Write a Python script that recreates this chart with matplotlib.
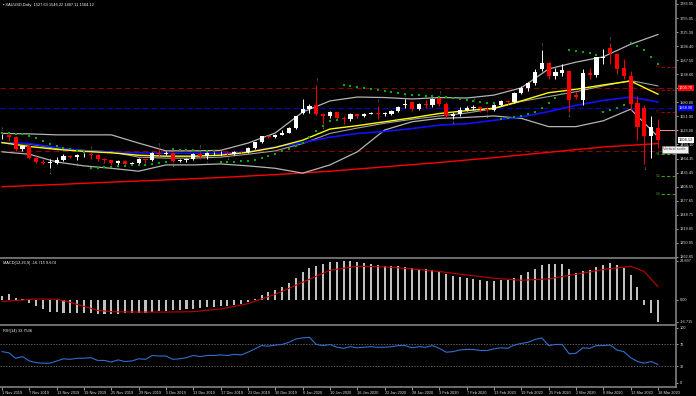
"""XAUUSD daily chart, MT4 style: candles + MAs/Bollinger/SAR, MACD and RSI panes."""

import matplotlib.pyplot as plt
import numpy as np
from matplotlib.transforms import blended_transform_factory

plt.rcParams["font.family"] = ["Liberation Sans", "DejaVu Sans"]

TITLE = "\u25aa XAUUSD,Daily  1527.63 1546.22 1487.11 1504.12"
MACD_TITLE = "MACD(12,26,9) -16.715 9.674"
RSI_TITLE = "RSI(14) 33.7536"

# --- daily candles, 1 Nov 2019 .. 18 Mar 2020 (97 bars) ---
opens = [1513, 1514, 1510, 1484, 1492, 1467, 1459, 1456, 1456, 1463,
         1471, 1468, 1472, 1474, 1472, 1464, 1462, 1455, 1461, 1454,
         1455, 1464, 1462, 1477, 1475, 1476, 1460, 1462, 1465, 1475,
         1471, 1476, 1476, 1477, 1475, 1479, 1478, 1487, 1499, 1511,
         1510, 1514, 1518, 1528, 1560, 1567, 1575, 1557, 1553, 1561,
         1549, 1546, 1556, 1552, 1557, 1560, 1558, 1558, 1563, 1576,
         1582, 1568, 1577, 1575, 1591, 1577, 1553, 1556, 1566, 1570,
         1572, 1567, 1566, 1575, 1584, 1581, 1601, 1611, 1620, 1650,
         1662, 1636, 1642, 1646, 1596, 1585, 1642, 1638, 1673, 1693,
         1681, 1652, 1635, 1580, 1569, 1512, 1527.63]
highs = [1516, 1515, 1511, 1494, 1494, 1470, 1465, 1464, 1468, 1474,
         1473, 1475, 1476, 1478, 1474, 1466, 1463, 1462, 1462, 1458,
         1466, 1465, 1479, 1484, 1481, 1479, 1465, 1466, 1477, 1479,
         1479, 1479, 1480, 1479, 1481, 1481, 1488, 1500, 1512, 1514,
         1516, 1524, 1530, 1553, 1588, 1577, 1617, 1560, 1563, 1564,
         1552, 1559, 1558, 1560, 1562, 1574, 1561, 1566, 1574, 1588,
         1584, 1580, 1585, 1590, 1592, 1581, 1562, 1571, 1574, 1576,
         1574, 1572, 1578, 1586, 1586, 1603, 1614, 1623, 1649, 1690,
         1665, 1651, 1660, 1648, 1602, 1650, 1652, 1675, 1692, 1703,
         1683, 1670, 1645, 1594, 1575, 1553, 1546.22]
lows = [1505, 1502, 1480, 1480, 1465, 1456, 1453, 1445, 1453, 1460,
        1466, 1462, 1468, 1465, 1461, 1456, 1452, 1452, 1452, 1452,
        1454, 1456, 1460, 1470, 1472, 1459, 1458, 1459, 1462, 1465,
        1464, 1473, 1473, 1473, 1473, 1476, 1476, 1485, 1498, 1507,
        1508, 1513, 1517, 1526, 1558, 1560, 1555, 1537, 1549, 1545,
        1536, 1543, 1548, 1550, 1556, 1547, 1553, 1554, 1561, 1569,
        1564, 1565, 1570, 1572, 1573, 1548, 1547, 1553, 1563, 1566,
        1562, 1561, 1563, 1573, 1578, 1579, 1598, 1604, 1617, 1645,
        1630, 1630, 1636, 1562, 1588, 1576, 1630, 1634, 1661, 1660,
        1640, 1630, 1566, 1504, 1453, 1466, 1487.11]
closes = [1514, 1510, 1484, 1492, 1467, 1459, 1456, 1456, 1463, 1471,
          1468, 1472, 1472, 1472, 1464, 1462, 1455, 1461, 1454, 1455,
          1464, 1462, 1477, 1475, 1476, 1460, 1462, 1465, 1475, 1471,
          1476, 1476, 1477, 1475, 1479, 1478, 1487, 1499, 1511, 1510,
          1514, 1518, 1528, 1552, 1568, 1574, 1557, 1553, 1561, 1549,
          1546, 1556, 1552, 1557, 1560, 1558, 1558, 1563, 1572, 1577,
          1568, 1577, 1575, 1588, 1577, 1553, 1556, 1566, 1570, 1571,
          1568, 1566, 1575, 1584, 1581, 1601, 1611, 1620, 1643, 1662,
          1635, 1643, 1647, 1585, 1593, 1642, 1638, 1674, 1675, 1683,
          1650, 1635, 1578, 1530, 1512, 1530, 1504.12]

sar = [1518, 1517, 1516, 1515, 1512, 1508, 1502, 1496, 1491, 1487,
       1484, 1481, 1479, 1445, 1446, 1447, 1448, 1449, 1450, 1451,
       1452, 1452.5, 1453, 1455, 1457.5, 1484, 1483.5, 1483, 1482, 1481.5,
       1481, 1480.5, 1458, 1458.5, 1459, 1460, 1461, 1463, 1466, 1470,
       1475, 1480, 1485, 1491, 1498, 1510, 1522, 1533, 1543, 1544.5,
       1617, 1615, 1613, 1611, 1609, 1607, 1605, 1603, 1601, 1599,
       1597, 1596, 1595, 1594, 1593, 1592, 1590, 1588, 1586, 1584,
       1582, 1580, 1579, 1547, 1548.5, 1550, 1553, 1557, 1562, 1569,
       1580, 1590, 1598, 1690, 1688, 1685, 1682, 1679, 1562, 1565,
       1570, 1575, 1703, 1698, 1690, 1675, 1660]

frac_up = [0, 13, 23, 29, 46, 55, 59, 64, 69, 79, 89]
frac_dn = [7, 11, 17, 25, 30, 33, 47, 66, 71, 83, 94]

# indicator lines, read every 4 bars
line_bars = [0, 4, 8, 12, 16, 20, 24, 28, 32, 36, 40, 44, 48,
             52, 56, 60, 64, 68, 72, 76, 80, 84, 88, 92, 96]
bb_upper = [1517, 1516, 1514, 1514, 1514, 1497, 1481, 1481, 1482, 1497, 1518, 1561, 1584,
            1592, 1591, 1588, 1591, 1590, 1596, 1611, 1650, 1664, 1675, 1701, 1721]
bb_mid = [1498, 1495, 1486, 1482, 1479, 1468, 1466, 1466, 1468, 1474, 1481, 1496, 1517,
          1528, 1538, 1546, 1553, 1559, 1568, 1583, 1593, 1603, 1615, 1626, 1615]
bb_lower = [1479, 1474, 1458, 1450, 1445, 1439, 1452, 1452, 1454, 1450, 1445, 1435, 1452,
            1479, 1524, 1541, 1548, 1550, 1553, 1548, 1531, 1531, 1543, 1567, 1510]
ma_yellow = [1498, 1490, 1484, 1480, 1477, 1472, 1470, 1470, 1472, 1478, 1488, 1503, 1526,
             1533, 1541, 1549, 1558, 1564, 1569, 1584, 1601, 1608, 1617, 1625, 1598]
ma_blue = [1498, 1496, 1488, 1481, 1478, 1477, 1476, 1476, 1476, 1479, 1489, 1498, 1509,
           1517, 1521, 1527, 1534, 1537, 1544, 1551, 1562, 1575, 1585, 1592, 1582]
red_bars = [0, 8, 16, 24, 32, 40, 48, 56, 64, 72, 80, 88, 96]
ma_red = [1407, 1411.5, 1416.5, 1421, 1426, 1432, 1439, 1448, 1457, 1467, 1478, 1489, 1496]

# horizontal levels
level_red = [1609.70, 1480.7]
level_blue = 1568.90
pivot_names = ["R3", "R2", "R1", "S1", "S2", "S3"]
pivot_prices = [1654.6, 1606.5, 1561.1, 1474.5, 1429.1, 1392.0]

price_ticks = [1783.95, 1755.05, 1725.30, 1696.40, 1667.50, 1638.60, 1609.70, 1580.80,
               1551.90, 1523.00, 1494.10, 1464.35, 1435.45, 1406.55, 1377.65, 1348.75,
               1319.85, 1290.95, 1262.05]

# MACD main (histogram) and signal
macd_hist = [3, 4, 1.5, 0.5, -2.5, -5, -7, -9, -9.5, -9.8,
             -10, -10.2, -10.3, -10.3, -10.4, -10.4, -10.5, -10.4, -10.3, -10.2,
             -10.1, -9.8, -9.2, -8.7, -8.2, -8, -7.6, -7.2, -6.7, -6.3,
             -5.8, -5.4, -4.9, -4.5, -3.8, -3.2, -1.8, 0.5, 3.5, 5.5,
             7.5, 9.8, 12.5, 16.5, 20.5, 24, 25.5, 26.5, 27.8, 28.2,
             28.897, 28.6, 28, 27.4, 26.8, 26.2, 25.5, 25, 24.8, 24.5,
             23.6, 23.2, 22.6, 22.4, 21.4, 19.2, 17.6, 16.8, 16.2, 15.6,
             14.9, 14.2, 14.1, 14.6, 14.8, 16.3, 18.2, 20.3, 23.2, 26.2,
             26.5, 26.8, 26.9, 22.6, 20.1, 21.7, 22.3, 24.6, 26, 27.3,
             26.1, 24, 18.6, 9.8, -4, -10, -16.715]
sig_bars = [0, 3, 5, 8, 10, 12, 14, 16, 20, 24, 28, 32, 36, 40, 44, 48,
            52, 56, 60, 64, 68, 72, 76, 80, 84, 88, 92, 94, 96]
macd_signal = [-1.3, -0.3, 0.5, 0.3, -2, -5, -8, -9, -9.3, -9.3, -9, -7, -3, 4, 13, 22,
               25, 24.5, 23, 21, 18.5, 16, 14.5, 15.5, 19, 22.5, 25, 21, 9.674]

rsi = [57, 55, 45, 48, 40, 37, 36, 36, 40, 44,
       43, 45, 45, 46, 41, 41, 38, 42, 39, 40,
       44, 43, 50, 49, 49, 43, 44, 46, 50, 48,
       50, 50, 51, 50, 52, 51, 56, 62, 68, 67,
       69, 70, 74, 80, 82, 83, 70, 68, 70, 65,
       63, 66, 64, 65, 66, 65, 65, 66, 68, 68,
       64, 66, 65, 68, 63, 56, 57, 60, 61, 61,
       59, 59, 62, 64, 63, 69, 72, 74, 79, 82,
       68, 70, 70, 53, 54, 64, 63, 68, 68, 69,
       60, 57, 46, 39, 36, 39, 33.75]

date_labels = ["1 Nov 2019", "7 Nov 2019", "13 Nov 2019", "19 Nov 2019", "25 Nov 2019",
               "29 Nov 2019", "5 Dec 2019", "11 Dec 2019", "17 Dec 2019", "23 Dec 2019",
               "30 Dec 2019", "6 Jan 2020", "10 Jan 2020", "16 Jan 2020", "22 Jan 2020",
               "28 Jan 2020", "3 Feb 2020", "7 Feb 2020", "13 Feb 2020", "19 Feb 2020",
               "25 Feb 2020", "2 Mar 2020", "6 Mar 2020", "12 Mar 2020", "18 Mar 2020"]

FS = 2.8
GRAY = "#808080"


def style(ax, ylim):
    ax.set_facecolor("black")
    ax.set_xlim(-0.29, 98.64)
    ax.set_ylim(*ylim)
    for s in ("left", "top"):
        ax.spines[s].set_visible(False)
    for s in ("right", "bottom"):
        ax.spines[s].set_color(GRAY)
        ax.spines[s].set_linewidth(1.2)
    ax.yaxis.tick_right()
    ax.tick_params(axis="y", colors="#e0e0e0", labelsize=FS, length=1.5, width=0.5, pad=1)
    ax.tick_params(axis="x", length=0, labelbottom=False)


def main():
    W, H = 696, 396
    fig = plt.figure(figsize=(W / 100, H / 100), dpi=100, facecolor="black")

    def px_axes(top, bottom):
        return fig.add_axes([0, 1 - bottom / H, 676 / W, (bottom - top) / H])

    ax = px_axes(0, 258)
    ax_m = px_axes(259, 325)
    ax_r = px_axes(327, 386.5)
    style(ax, (1259.95, 1792.2))
    style(ax_m, (-18.96, 30.39))
    style(ax_r, (-6.4, 101.8))

    xs = np.arange(len(closes))
    o, h, l, c = map(np.asarray, (opens, highs, lows, closes))

    # price pane
    for y in level_red:
        ax.axhline(y, color="#8b0000", lw=0.8, ls=(0, (5, 3)), zorder=1)
    ax.axhline(level_blue, color="#0000c8", lw=0.8, ls=(0, (5, 3)), zorder=1)
    ax.plot(red_bars, ma_red, color="#ff0000", lw=1.0, zorder=2)
    ax.plot(line_bars, bb_upper, color="#b4b4b4", lw=0.9, zorder=2)
    ax.plot(line_bars, bb_lower, color="#b4b4b4", lw=0.9, zorder=2)
    ax.plot(line_bars, bb_mid, color="#a0a0a0", lw=0.8, zorder=2)
    ax.plot(line_bars, ma_blue, color="#1010ff", lw=1.2, zorder=2)
    ax.plot(line_bars, ma_yellow, color="#ffff00", lw=1.0, zorder=2)

    colors = np.where(c >= o, "white", "#ff0000")
    ax.vlines(xs, l, h, colors=colors, lw=0.7, zorder=3)
    ax.bar(xs, np.maximum(np.abs(c - o), 1.2), bottom=np.minimum(o, c), width=0.62,
           color=colors, lw=0, zorder=4)

    ax.scatter(xs, sar, s=2.0, marker="s", color="#00b000", lw=0, zorder=5)
    for i in frac_up:
        ax.text(i, h[i] + 3, "\u2191", color="#a8a8a8", fontsize=4.2, ha="center", va="bottom")
    for i in frac_dn:
        ax.text(i, l[i] - 3, "\u2193", color="#a8a8a8", fontsize=4.2, ha="center", va="top")

    # pivot segments at the right edge
    for name, p in zip(pivot_names, pivot_prices):
        col = "#a00000" if name.startswith("R") else "#3a9a10"
        ax.plot([96.5, 98.64], [p, p], color=col, lw=0.8, ls=(0, (3, 2)), zorder=2)
        ax.text(95.7, p, name, color=col, fontsize=FS, ha="left", va="center", zorder=6)
    ax.plot([96.3, 98.64], [1524, 1524], color="#ff8c8c", lw=0.7, zorder=2)

    ax.set_yticks(price_ticks)
    ax.set_yticklabels([f"{t:.2f}" for t in price_ticks])
    tr = blended_transform_factory(ax.transAxes, ax.transData)
    for txt, y, fc, tc in [("1609.70", 1609.70, "#ff0000", "white"),
                           (f"{level_blue:.2f}", level_blue, "#0000ff", "white"),
                           ("1504.12", 1504.12, "white", "black")]:
        ax.text(1.004, y, txt, transform=tr, fontsize=FS, color=tc, ha="left", va="center",
                bbox=dict(boxstyle="square,pad=0.25", fc=fc, ec="none"), clip_on=False, zorder=7)
    ax.text(96.8, 1484, "Vertical scale", fontsize=FS, color="#404040", ha="left", va="center",
            bbox=dict(boxstyle="square,pad=0.4", fc="#f2f2f2", ec="#909090", lw=0.4),
            clip_on=False, zorder=8)

    # MACD pane
    ax_m.bar(xs, macd_hist, width=0.3, color="#c0c0c0", lw=0)
    ax_m.plot(sig_bars, macd_signal, color="#c00000", lw=0.8)
    ax_m.set_yticks([28.897, 0, -16.715])
    ax_m.set_yticklabels(["28.897", "0.00", "-16.715"])

    # RSI pane
    for lv in (70, 30):
        ax_r.axhline(lv, color=GRAY, lw=0.5, ls=(0, (2, 2)))
    ax_r.plot(xs, rsi, color="#2f6fd0", lw=0.8)
    ax_r.set_yticks([100, 70, 30, 0])
    ax_r.set_xticks(np.arange(0, 97, 4))
    ax_r.set_xticklabels(date_labels, ha="left")
    ax_r.tick_params(axis="x", colors="#e0e0e0", labelsize=FS, length=2.5, width=0.5, pad=0.8,
                     labelbottom=True)

    fig.text(3 / W, 1 - 5 / H, TITLE, fontsize=FS, color="white", va="center")
    fig.text(3 / W, 1 - 263 / H, MACD_TITLE, fontsize=FS, color="white", va="center")
    fig.text(3 / W, 1 - 331 / H, RSI_TITLE, fontsize=FS, color="white", va="center")

    fig.savefig("out.png", dpi=100, facecolor="black")


if __name__ == "__main__":
    main()
